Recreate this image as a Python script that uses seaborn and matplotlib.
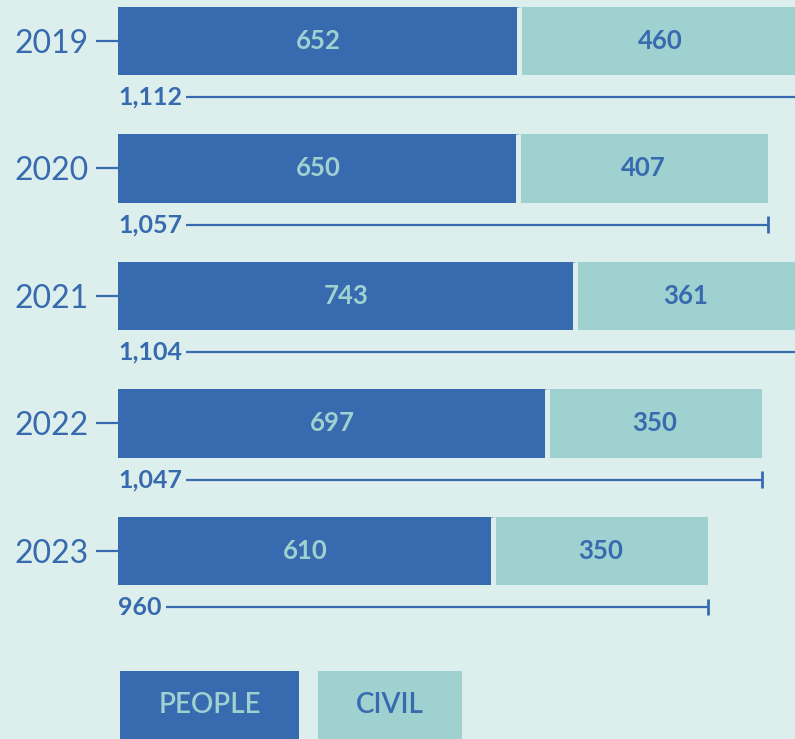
import matplotlib
matplotlib.use("Agg")
import matplotlib.pyplot as plt
import seaborn as sns
import pandas as pd
from matplotlib.patches import Rectangle

# data
years = ["2019", "2020", "2021", "2022", "2023"]
people = [652, 650, 743, 697, 610]
civil = [460, 407, 361, 350, 350]
totals = [p + c for p, c in zip(people, civil)]

BG = "#ddefed"
BLUE = "#376aae"
TEAL = "#9fd1d0"

sns.set_style("white", {"axes.facecolor": BG, "figure.facecolor": BG})
plt.rcParams["font.family"] = ["Lato", "DejaVu Sans"]

df = pd.DataFrame({"year": years, "people": people, "civil": civil, "total": totals})

fig = plt.figure(figsize=(7.95, 7.39), dpi=100)
ax = fig.add_axes([118 / 795, 0, 1 - 118 / 795, 1])

bar_h = 0.54
# stacked: total in teal underneath, people in blue on top
sns.barplot(data=df, x="total", y="year", orient="h", color=TEAL, saturation=1,
            width=bar_h, edgecolor="none", ax=ax)
sns.barplot(data=df, x="people", y="year", orient="h", color=BLUE, saturation=1,
            width=bar_h, edgecolor="none", ax=ax)

for i, row in df.iterrows():
    # thin gap between the two segments
    ax.vlines(row.people, i - bar_h / 2, i + bar_h / 2, color=BG, lw=3.6, zorder=3)
    ax.text(row.people / 2, i, f"{row.people}", ha="center", va="center",
            color=TEAL, fontsize=18.5, fontweight="bold", zorder=4)
    ax.text(row.people + row.civil / 2, i, f"{row.civil}", ha="center", va="center",
            color=BLUE, fontsize=18.5, fontweight="bold", zorder=4)

    # total bracket line under each bar
    ty = i + 0.44
    ax.hlines(ty, 0, row.total, color=BLUE, lw=1.6, zorder=2)
    ax.vlines(row.total, ty - 0.065, ty + 0.065, color=BLUE, lw=2, zorder=2)
    ax.text(0, ty, f"{row.total:,}", ha="left", va="center", color=BLUE,
            fontsize=18, fontweight="bold", zorder=3,
            bbox=dict(facecolor=BG, edgecolor="none", pad=3))

ax.set_xlim(0, 1101)
ax.set_ylim(5.475, -0.3216)
ax.set_xlabel("")
ax.set_ylabel("")
ax.set_xticks([])
sns.despine(ax=ax, left=True, bottom=True)
ax.tick_params(axis="y", length=16, width=1.6, color=BLUE, pad=5,
               labelsize=23, labelcolor=BLUE, left=True)

# legend boxes at the bottom
legend_items = [("PEOPLE", BLUE, TEAL, 120, 179), ("CIVIL", TEAL, BLUE, 318, 144)]
for label, face, txt, x0, w in legend_items:
    fig.add_artist(Rectangle((x0 / 795, 0), w / 795, 68 / 739, transform=fig.transFigure,
                             facecolor=face, edgecolor="none"))
    fig.text((x0 + w / 2) / 795, 34 / 739, label, ha="center", va="center",
             color=txt, fontsize=20, fontweight="semibold")

fig.savefig("out.png", dpi=100, facecolor=BG)
